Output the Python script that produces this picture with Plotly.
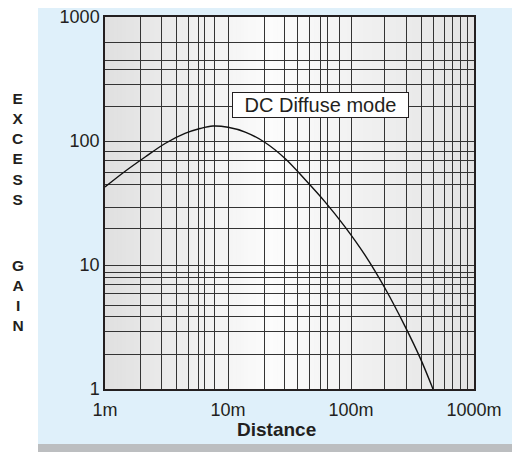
import plotly.graph_objects as go

# ---------------- data ----------------
distance_m = [1.00, 1.45, 2.12, 3.08, 4.47, 5.92, 7.55, 10.0, 13.8, 20.0,
              29.1, 42.3, 61.5, 89.4, 130, 189, 275, 364, 464]
excess_gain = [42.6, 56.8, 74.3, 95.5, 115, 126, 132, 129, 118, 97.3,
               72.3, 48.9, 32.3, 20.3, 12.0, 6.49, 3.20, 1.79, 1.00]

x_label_vals = [1, 10, 100, 1000]
x_label_text = ["1m", "10m", "100m", "1000m"]
y_label_vals = [1, 10, 100, 1000]
y_label_text = ["1", "10", "100", "1000"]

# grid lines drawn on the chart (not all at regular log positions)
x_grid_vals = [1.96, 2.89, 3.80, 4.73, 5.78, 6.47, 7.74,
               19.7, 28.7, 36.9, 45.6, 56.0, 64.2, 79.9,
               187, 283, 371, 469, 576, 666, 770, 882]
y_grid_vals = [1.89, 2.91, 3.86, 4.74, 5.92, 6.99, 7.90, 8.78,
               19.6, 29.2, 44.8, 56.2, 69.9, 83.0,
               191, 287, 374, 450, 620]

series_name = "DC Diffuse mode"
x_title = "Distance"
y_title_words = ["EXCESS", "GAIN"]

# ---------------- layout geometry (screen pixels) ----------------
OFF = 8                      # page body margin of the html page
W, H = 520 - OFF, 452 - OFF  # figure size that fills the visible window
L, R, T, B = 105, 474, 17, 389
PW, PH = R - L, B - T


def fx(px):
    return (px - L) / PW


def fy(py):
    return (B - py) / PH


def ticks_and_text(label_vals, label_text, grid_vals):
    lab = dict(zip(label_vals, label_text))
    vals = sorted(set(label_vals) | set(grid_vals))
    return vals, [lab.get(v, "") for v in vals]


xt_vals, xt_text = ticks_and_text(x_label_vals, x_label_text, x_grid_vals)
yt_vals, yt_text = ticks_and_text(y_label_vals, y_label_text, y_grid_vals)

TEXT = "#231f20"
GRID = "#333333"
FONT = "Liberation Sans, Arial, Helvetica, sans-serif"

fig = go.Figure()
fig.add_trace(go.Scatter(
    x=distance_m, y=excess_gain, mode="lines", name=series_name,
    line=dict(color="#111111", width=1.4, shape="spline", smoothing=1.0),
    showlegend=False, hoverinfo="x+y",
))

shapes = []
# panel shadow
shapes.append(dict(type="rect", xref="paper", yref="paper", layer="below",
                   x0=fx(38), x1=fx(521), y0=fy(452), y1=fy(3),
                   fillcolor="#bcbec0", line=dict(width=0)))
# light blue panel
shapes.append(dict(type="rect", xref="paper", yref="paper", layer="below",
                   x0=fx(38), x1=fx(512), y0=fy(444), y1=fy(0),
                   fillcolor="#dff0fa", line=dict(width=0)))
# gray-white-gray horizontal gradient inside the plot area
stops = [(0.0, 224), (0.45, 252), (1.0, 227)]


def gray_at(t):
    for (t0, g0), (t1, g1) in zip(stops[:-1], stops[1:]):
        if t <= t1:
            return g0 + (g1 - g0) * (t - t0) / (t1 - t0)
    return stops[-1][1]


N = 90
for i in range(N):
    t0, t1 = i / N, (i + 1) / N
    g = int(round(gray_at((t0 + t1) / 2)))
    shapes.append(dict(type="rect", xref="paper", yref="paper", layer="below",
                       x0=t0, x1=t1 + 0.002, y0=0, y1=1,
                       fillcolor=f"rgb({g},{g},{g})", line=dict(width=0)))

annotations = [
    dict(text=series_name, xref="paper", yref="paper",
         x=fx(320.5), y=fy(104.7), xanchor="center", yanchor="middle",
         showarrow=False, font=dict(family=FONT, size=20, color=TEXT),
         bgcolor="#ffffff", bordercolor="#231f20", borderwidth=1,
         borderpad=1, width=173, height=22),
    dict(text="<b>" + x_title + "</b>", xref="paper", yref="paper",
         x=fx(276), y=fy(430), xanchor="center", yanchor="middle",
         showarrow=False, font=dict(family=FONT, size=19, color=TEXT)),
]
for word, cy in zip(y_title_words, [149, 295]):
    annotations.append(dict(
        text="<b>" + "<br>".join(word) + "</b>", xref="paper", yref="paper",
        x=fx(17.5), y=fy(cy), xanchor="center", yanchor="middle",
        showarrow=False, align="center",
        font=dict(family=FONT, size=15.5, color=TEXT)))

axis_common = dict(
    type="log", range=[0, 3], showline=True, mirror=True,
    linecolor="#231f20", linewidth=1.5, showgrid=True,
    gridcolor=GRID, gridwidth=1.4, zeroline=False, ticks="",
    tickmode="array", automargin=False, ticklabeloverflow="allow",
)

fig.update_layout(
    width=W, height=H, autosize=False,
    margin=dict(l=L - OFF, r=W - (R - OFF), t=T - OFF, b=H - (B - OFF), pad=0),
    paper_bgcolor="#ffffff", plot_bgcolor="rgba(0,0,0,0)",
    font=dict(family=FONT, color=TEXT),
    shapes=shapes, annotations=annotations,
    xaxis=dict(axis_common, tickvals=xt_vals, ticktext=xt_text,
               tickfont=dict(family=FONT, size=18, color=TEXT),
               ticklabelstandoff=4),
    yaxis=dict(axis_common, tickvals=yt_vals, ticktext=yt_text,
               tickfont=dict(family=FONT, size=18, color=TEXT),
               ticklabelstandoff=0),
)

fig.write_html("out.html")
